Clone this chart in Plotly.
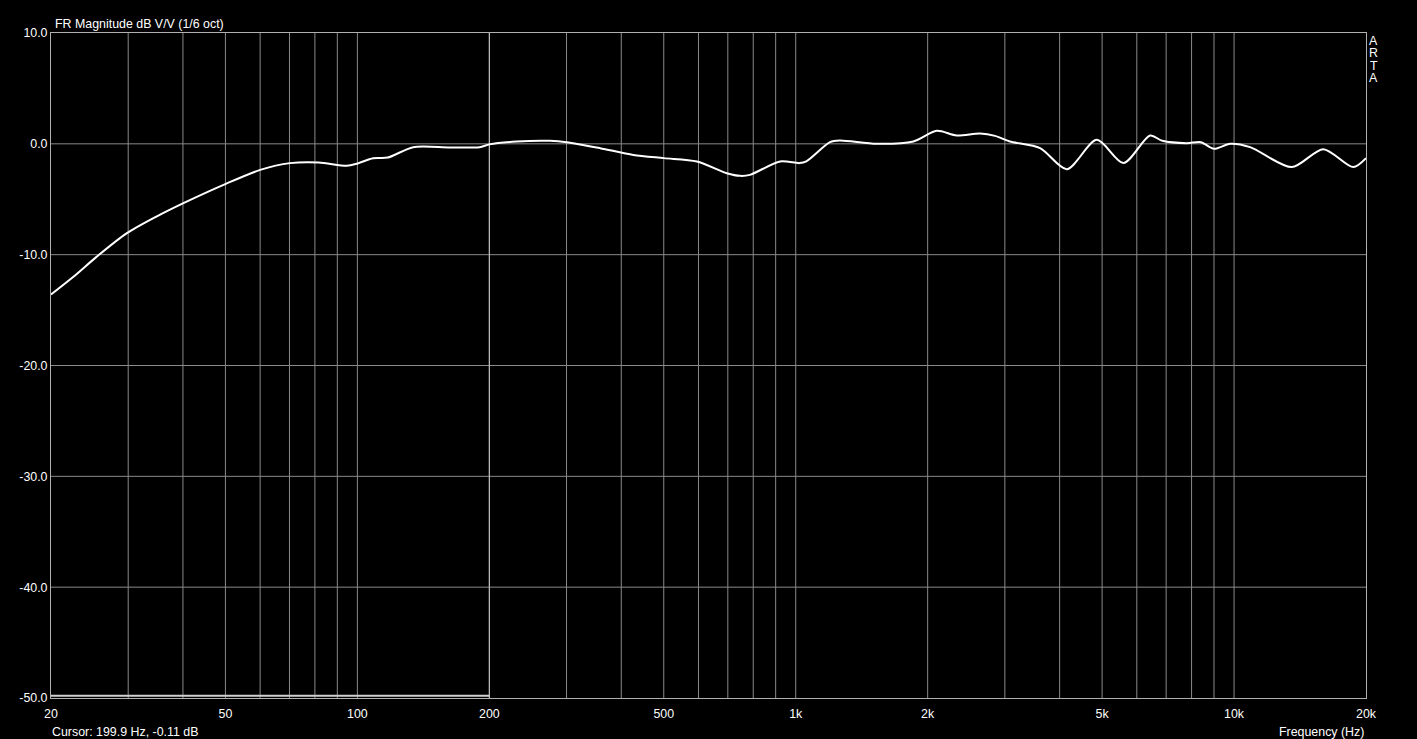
import plotly.graph_objects as go

freq_hz = [20, 22.5, 25.4, 29.8, 34.8, 40.1, 49.5, 60, 70.2, 81.6, 94.6, 99.6, 108.6, 117.3,
           134, 162.6, 190, 200, 231, 275, 300, 358, 426, 500, 595, 696, 747, 786, 921,
           1020, 1057, 1197, 1259, 1530, 1855, 2097, 2330, 2634, 2850, 3080, 3610, 4154,
           4862, 5592, 6434, 6860, 7800, 8400, 9000, 9800, 10880, 13540, 15980, 18710, 20000]
mag_db = [-13.6, -12.0, -10.2, -8.06, -6.56, -5.35, -3.7, -2.35, -1.74, -1.68, -1.98, -1.8,
          -1.3, -1.24, -0.3, -0.33, -0.3, -0.05, 0.21, 0.27, 0.15, -0.39, -1.0, -1.29, -1.59,
          -2.65, -2.89, -2.8, -1.59, -1.74, -1.59, 0.15, 0.3, 0.0, 0.21, 1.17, 0.75, 0.93,
          0.72, 0.21, -0.39, -2.29, 0.36, -1.74, 0.75, 0.27, 0.06, 0.15, -0.45, 0.0, -0.3,
          -2.1, -0.48, -2.1, -1.29]

grid_freqs = [30, 40, 50, 60, 70, 80, 90, 100, 200, 300, 400, 500, 600, 700, 800, 900,
              1000, 2000, 3000, 4000, 5000, 6000, 7000, 8000, 9000, 10000]
tick_vals = [20, 50, 100, 200, 500, 1000, 2000, 5000, 10000, 20000]
tick_text = ["20", "50", "100", "200", "500", "1k", "2k", "5k", "10k", "20k"]
y_ticks = [10, 0, -10, -20, -30, -40, -50]
y_text = ["10.0", "0.0", "-10.0", "-20.0", "-30.0", "-40.0", "-50.0"]
cursor_freq = 200
cursor_line_f = [20, 200]
cursor_line_db = [-49.8, -49.8]

FONT = "Liberation Sans, Arial, sans-serif"
GRID = "#8a8a8a"
FS = 12.4

fig = go.Figure()

for f in grid_freqs:
    fig.add_shape(type="line", xref="x", yref="y", x0=f, x1=f, y0=-50, y1=10,
                  line=dict(color=GRID, width=1), layer="below")
for v in y_ticks[1:-1]:
    fig.add_shape(type="line", xref="x", yref="y", x0=20, x1=20000, y0=v, y1=v,
                  line=dict(color=GRID, width=1), layer="below")
fig.add_shape(type="line", xref="x", yref="y", x0=cursor_freq, x1=cursor_freq, y0=-50, y1=10,
              line=dict(color="#c8c8c8", width=1), layer="below")

fig.add_trace(go.Scatter(x=cursor_line_f, y=cursor_line_db, mode="lines",
                         line=dict(color="#d0d0d0", width=2), hoverinfo="skip"))
fig.add_trace(go.Scatter(x=freq_hz, y=mag_db, mode="lines",
                         line=dict(color="white", width=2, shape="spline", smoothing=0.8)))

fig.update_layout(
    width=1417, height=739,
    paper_bgcolor="black", plot_bgcolor="black",
    margin=dict(l=51, r=51, t=33, b=41),
    showlegend=False,
    font=dict(family=FONT, size=FS, color="white"),
    xaxis=dict(type="log", range=[1.30103, 4.30103], tickvals=tick_vals, ticktext=tick_text,
               showgrid=False, zeroline=False, showline=True, linecolor="#b0b0b0", linewidth=1,
               mirror=True, ticks="", ticklabelstandoff=4, tickfont=dict(size=FS, color="white")),
    yaxis=dict(range=[-50, 10], tickvals=y_ticks, ticktext=y_text, showgrid=False,
               zeroline=False, showline=True, linecolor="#b0b0b0", linewidth=1, mirror=True,
               ticks="", tickfont=dict(size=FS, color="white")),
    annotations=[
        dict(text="FR Magnitude dB V/V (1/6 oct)", xref="paper", yref="paper", x=0.0015, y=1,
             xanchor="left", yanchor="bottom", showarrow=False, font=dict(size=FS, color="white")),
        dict(text="Cursor: 199.9 Hz, -0.11 dB", xref="paper", yref="paper", x=-0.001, y=-0.038,
             xanchor="left", yanchor="top", showarrow=False, font=dict(size=FS, color="white")),
        dict(text="Frequency (Hz)", xref="paper", yref="paper", x=1, y=-0.038,
             xanchor="right", yanchor="top", showarrow=False, font=dict(size=FS, color="white")),
    ] + [
        dict(text=ch, xref="paper", yref="paper", x=1.006, y=1 - (i * 12.3 + 8) / 665,
             xanchor="center", yanchor="middle", showarrow=False,
             font=dict(size=FS, color="white"))
        for i, ch in enumerate("ARTA")
    ],
)

fig.write_html("out.html", config={"displayModeBar": False},
               post_script="document.body.style.margin='0';document.body.style.background='black';"
                           "document.body.style.overflow='hidden';")
